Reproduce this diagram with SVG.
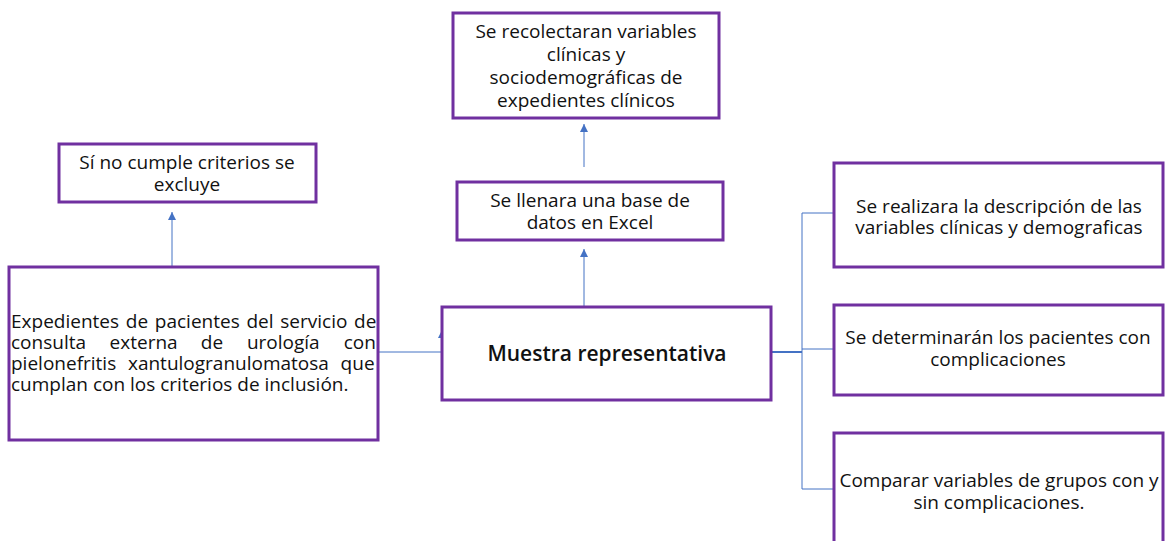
<svg xmlns="http://www.w3.org/2000/svg" width="1165" height="541" viewBox="0 0 1165 541">
<style>
.box{fill:#fff;stroke:#7030A0;stroke-width:3}
.t{font-family:"Open Sans",Lato,"Liberation Sans",sans-serif;font-size:19px;fill:#111;text-anchor:middle}
.j{font-family:"Open Sans",Lato,"Liberation Sans",sans-serif;font-size:19px;fill:#111}
.c{fill:none;stroke:#4472C4;stroke-width:1}
</style>
<defs>
<marker id="up" viewBox="0 0 10 10" refX="10" refY="5" markerWidth="8" markerHeight="8" orient="auto">
<path d="M0,0 L10,5 L0,10 Z" fill="#4472C4"/>
</marker>
</defs>
<rect width="1165" height="541" fill="#fff"/>
<g id="connectors">
<path class="c" d="M172,267 V212" marker-end="url(#up)"/>
<path class="c" d="M378,352 H442 V330" marker-end="url(#up)"/>
<path class="c" d="M584,307 V249" marker-end="url(#up)"/>
<path class="c" d="M584,167 V124" marker-end="url(#up)"/>
<path class="c" d="M771,352 H802" style="stroke-width:2"/>
<path class="c" d="M834,213 H802 V489 H834 M802,349 H834"/>
</g>
<g id="n-top">
<rect class="box" x="453" y="13" width="266" height="105"/>
<text class="t"><tspan x="586" y="38">Se recolectaran variables</tspan><tspan x="586" y="61">clínicas y</tspan><tspan x="586" y="84">sociodemográficas de</tspan><tspan x="586" y="107">expedientes clínicos</tspan></text>
</g>
<g id="n-excel">
<rect class="box" x="457" y="182" width="266" height="58"/>
<text class="t"><tspan x="590" y="207">Se llenara una base de</tspan><tspan x="590" y="229">datos en Excel</tspan></text>
</g>
<g id="n-excluye">
<rect class="box" x="59" y="144" width="257" height="58"/>
<text class="t"><tspan x="187" y="169">Sí no cumple criterios se</tspan><tspan x="187" y="191">excluye</tspan></text>
</g>
<g id="n-expedientes">
<rect class="box" x="9" y="267" width="369" height="173"/>
<text class="j"><tspan x="11" y="328" word-spacing="1.8">Expedientes de pacientes del servicio de</tspan><tspan x="11" y="349">consulta</tspan><tspan x="109.6" y="349">externa</tspan><tspan x="200.8" y="349">de</tspan><tspan x="246.9" y="349">urología</tspan><tspan x="343.7" y="349">con</tspan><tspan x="11" y="370" word-spacing="6.8">pielonefritis xantulogranulomatosa que</tspan><tspan x="11" y="391">cumplan con los criterios de inclusión.</tspan></text>
</g>
<g id="n-muestra">
<rect class="box" x="442" y="307" width="329" height="93"/>
<text class="t" x="607" y="361" style="font-size:21px;font-weight:600">Muestra representativa</text>
</g>
<g id="n-desc">
<rect class="box" x="834" y="163" width="329" height="104"/>
<text class="t"><tspan x="999" y="213">Se realizara la descripción de las</tspan><tspan x="999" y="234">variables clínicas y demograficas</tspan></text>
</g>
<g id="n-compl">
<rect class="box" x="834" y="305" width="329" height="90"/>
<text class="t"><tspan x="998" y="344">Se determinarán los pacientes con</tspan><tspan x="998" y="366">complicaciones</tspan></text>
</g>
<g id="n-comparar">
<rect class="box" x="834" y="433" width="329" height="120"/>
<text class="t"><tspan x="999" y="487">Comparar variables de grupos con y</tspan><tspan x="999" y="509">sin complicaciones.</tspan></text>
</g>
</svg>
